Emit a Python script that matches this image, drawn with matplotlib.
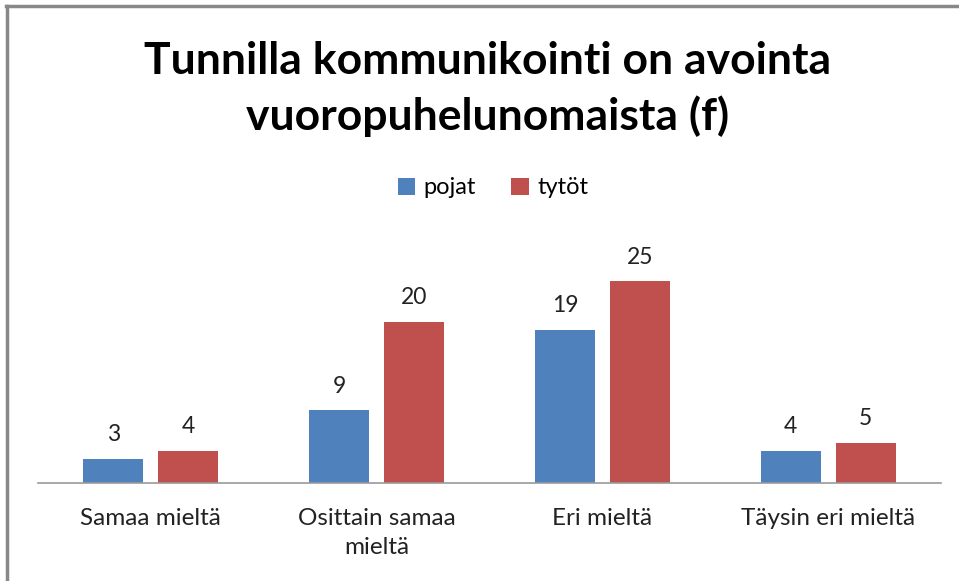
import numpy as np
import matplotlib.pyplot as plt
from matplotlib.lines import Line2D

plt.rcParams['font.family'] = ['Lato', 'DejaVu Sans']

# data
categories = ["Samaa mieltä", "Osittain samaa\nmieltä", "Eri mieltä", "Täysin eri mieltä"]
pojat = [3, 9, 19, 4]
tytot = [4, 20, 25, 5]
series_names = ["pojat", "tytöt"]

blue = "#4F81BD"
red = "#C0504D"

fig = plt.figure(figsize=(9.59, 5.81), dpi=100)
ax = fig.add_axes([38 / 959, 1 - 483 / 581, (941 - 38) / 959, (483 - 241) / 581])

x = np.arange(len(categories))
w = 0.266
b1 = ax.bar(x - 0.166, pojat, w, color=blue, label=series_names[0])
b2 = ax.bar(x + 0.166, tytot, w, color=red, label=series_names[1])

for bars, vals in [(b1, pojat), (b2, tytot)]:
    for r, v in zip(bars, vals):
        ax.text(r.get_x() + r.get_width() / 2, v + 1.7, str(v),
                ha="center", va="bottom", fontsize=16.5, color="#222222")

ax.set_xlim(-0.5, len(categories) - 0.5)
ax.set_ylim(0, 30)
ax.set_yticks([])
ax.set_xticks(x)
ax.set_xticklabels(categories, fontsize=17.5, color="#222222", linespacing=1.5)
ax.tick_params(axis="x", length=0, pad=18)
for s in ["top", "right", "left"]:
    ax.spines[s].set_visible(False)
ax.spines["bottom"].set_color("#999999")
ax.spines["bottom"].set_linewidth(1.2)

fig.text(0.508, 1 - 89 / 581, "Tunnilla kommunikointi on avointa\nvuoropuhelunomaista (f)",
         ha="center", va="center", fontsize=32, fontweight="bold", linespacing=1.4)

leg = fig.legend(handles=[b1, b2], loc="center", bbox_to_anchor=(0.514, 1 - 188 / 581),
                 ncol=2, frameon=False, fontsize=17, handlelength=0.75, handleheight=0.75,
                 handletextpad=0.35, columnspacing=1.5)

# chart frame (top and left edges visible)
fig.add_artist(Line2D([6 / 959, 1], [1 - 6 / 581, 1 - 6 / 581], color="#888888", lw=2.5))
fig.add_artist(Line2D([7 / 959, 7 / 959], [0, 1 - 6 / 581], color="#888888", lw=2.5))

fig.savefig("out.png", dpi=100, facecolor="white")
